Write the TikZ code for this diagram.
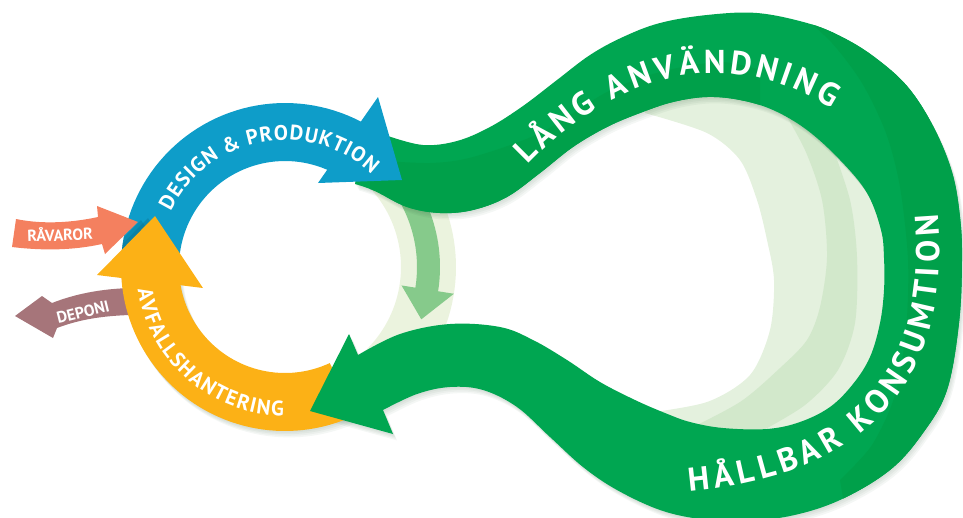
\documentclass[tikz,border=0pt]{standalone}
\usepackage{fontspec}
\setmainfont{PT Sans}
\usetikzlibrary{decorations.text}
\definecolor{gmain}{HTML}{00A651}
\definecolor{gdark}{HTML}{00A04A}
\definecolor{bluec}{HTML}{0E9DC9}
\definecolor{blueshade}{HTML}{0A6E8C}
\definecolor{orangec}{HTML}{FCB116}
\definecolor{salmonc}{HTML}{F4805F}
\definecolor{mauvec}{HTML}{A6757A}
\definecolor{paleA}{HTML}{E4F1DE}
\definecolor{paleB}{HTML}{D2E8CB}
\definecolor{paleRing}{HTML}{EBF3DE}
\definecolor{midgreen}{HTML}{86CA8B}
\definecolor{shadowc}{HTML}{2E5A3A}
\def\greenpath{(368,115) -- plot[smooth, tension=0.6] coordinates {(388,136) (423,145) (457,141) (490,127) (523,106) (557,80) (590,55) (623,37) (660,23) (707,15) (757,13) (807,23) (840,36) (873,56) (907,86) (933,126) (952,172) (960,217) (962,260) (959,323) (947,390) (923,433) (890,470) (840,500) (790,516) (740,521) (700,519) (660,510) (617,490) (583,467) (550,437) (517,407) (483,390) (450,387) (417,394) (383,410)} -- (393,434) -- (310,411) -- (349,334) -- plot[smooth, tension=0.6] coordinates {(358,355) (400,334) (450,324) (500,327) (533,340) (567,360) (600,382) (635,400) (665,413) (690,422) (723,428) (767,429) (800,422) (830,407) (853,384) (870,357) (880,323) (884,290) (884,258) (881,230) (867,193) (840,160) (807,130) (773,110) (740,100) (707,97) (673,102) (640,113) (607,127) (573,147) (540,173) (507,197) (473,210) (440,213) (407,207) (375,191) (355,184)} -- cycle}
\def\bluepath{plot[domain=178:300,samples=50] ({285+164*cos(\x)},{267+164*sin(\x)}) -- plot[domain=300:178,samples=50] ({285+106*cos(\x)},{267+106*sin(\x)}) -- cycle}
\def\orangepath{plot[domain=65:180,samples=50] ({285+164*cos(\x)},{267+164*sin(\x)}) -- plot[domain=180:65,samples=50] ({285+106*cos(\x)},{267+106*sin(\x)}) -- cycle}
\tikzset{
  bigtxt/.style={decorate, decoration={text along path, text align=fit to path, text color=white, text={|\fontsize{33}{33}\selectfont\bfseries|#1}}},
  midtxt/.style={decorate, decoration={text along path, text align=fit to path, text color=white, text={|\fontsize{21}{21}\selectfont\bfseries|#1}}},
  smalltxt/.style={text=white, font=\fontsize{16}{16}\selectfont\bfseries, inner sep=0pt},
  softshadow/.style={fill=shadowc, opacity=0.05}
}
\begin{document}
\begin{tikzpicture}[x=1pt,y=-1pt]
\useasboundingbox (0,0) rectangle (963,517);
% pale ring of the short cycle
\fill[paleRing] plot[domain=-42:50,samples=40] ({285+116*cos(\x)},{267+116*sin(\x)}) -- plot[domain=50:-42,samples=40] ({285+171*cos(\x)},{267+171*sin(\x)}) -- cycle;
\fill[midgreen] plot[domain=-45:10,samples=30] ({285+132*cos(\x)},{267+132*sin(\x)}) -- plot[domain=10:-45,samples=30] ({285+155*cos(\x)},{267+155*sin(\x)}) -- cycle;
\fill[midgreen] ({285+118*cos(9)},{267+118*sin(9)}) -- ({285+171*cos(9)},{267+171*sin(9)}) -- ({285+146*cos(21)},{267+146*sin(21)}) -- cycle;
% pale crescents in the big loop
\fill[paleA] plot[smooth] coordinates {(645,113) (707,133) (740,160) (757,200) (767,240) (774,280) (770,330) (750,375) (707,402) (640,414)} -- (700,440) -- (780,450) -- (860,420) -- (905,330) -- (905,220) -- (870,120) -- (800,80) -- (700,80) -- (645,100) -- cycle;
\fill[paleB] plot[smooth] coordinates {(683,432) (740,402) (780,368) (807,340) (820,307) (827,257) (822,200) (805,150) (780,105)} -- (800,95) -- plot[smooth] coordinates {(830,140) (850,200) (857,257) (855,323) (838,370) (805,405) (760,432)} -- (700,445) -- cycle;
% soft shadows
\foreach \s in {1,2,3,4} {
  \path[softshadow, shift={(\s,1.6*\s)}] \greenpath;
  \path[softshadow, shift={(\s,1.6*\s)}] \orangepath;
}
% DEPONI arrow
\fill[mauvec] (130,288) .. controls (100,289) and (75,294) .. (52,303) -- (42,296) -- (15,316) -- (53,338) -- (57,328) .. controls (78,320) and (100,316) .. (130,315) -- cycle;
\node[smalltxt, rotate=14] (dep) at (83,312) {DEPONI};
% orange body
\fill[orangec] \orangepath;
% green ribbon
\fill[gmain] \greenpath;
\begin{scope}
\clip \greenpath;
\fill[gdark] plot[smooth] coordinates {(800,14) (832,43) (862,83) (886,133) (900,187) (908,260) (906,330) (895,395) (872,445) (840,480)} -- (850,540) -- (990,540) -- (990,-10) -- cycle;
\fill[gdark] plot[smooth] coordinates {(370,160) (430,163) (473,157) (540,133) (607,92) (660,72) (720,62) (760,70)} -- (760,200) -- (370,230) -- cycle;
\end{scope}
\path[bigtxt={LÅNG ANVÄNDNING}] plot[domain=0:1,samples=80] ({(1-\x)^3*528+3*(1-\x)^2*\x*630+3*(1-\x)*\x^2*740+\x^3*832},{(1-\x)^3*165+3*(1-\x)^2*\x*60+3*(1-\x)*\x^2*50+\x^3*109});
\path[bigtxt={HÅLLBAR KONSUMTION}] plot[domain=0:1,samples=80] ({(1-\x)^3*689+3*(1-\x)^2*\x*873+3*(1-\x)*\x^2*952+\x^3*938},{(1-\x)^3*491+3*(1-\x)^2*\x*475+3*(1-\x)*\x^2*378+\x^3*214});
% blue arc
\fill[bluec] \bluepath;
\begin{scope}
\clip \bluepath;
\fill[blueshade, opacity=0.35] (83,279) -- (141,220) -- (189,292) -- cycle;
\fill[blueshade, opacity=0.35] (90,277) -- (148,218) -- (196,290) -- cycle;
\end{scope}
\fill[bluec] (378,97) -- (402,180) -- (318,183) -- cycle;
\path[midtxt={DESIGN {\&} PRODUKTION}] plot[domain=206:313,samples=60] ({285+127*cos(\x)},{267+127*sin(\x)});
% orange head
\fill[orangec] (97,275) -- (155,216) -- (203,288) -- cycle;
\path[midtxt={AVFALLSHANTERING}] plot[domain=171.5:90.5,samples=60] ({285+149*cos(\x)},{267+149*sin(\x)});
% RAVAROR arrow
\fill[salmonc] (16,219) .. controls (45,225) and (75,222) .. (98,217) -- (97,206) -- (138,222) -- (105,254) -- (102,244) .. controls (75,250) and (45,251) .. (12,247) -- cycle;
\node[smalltxt, rotate=2] (rav) at (60,234) {RÅVAROR};
\end{tikzpicture}
\end{document}
